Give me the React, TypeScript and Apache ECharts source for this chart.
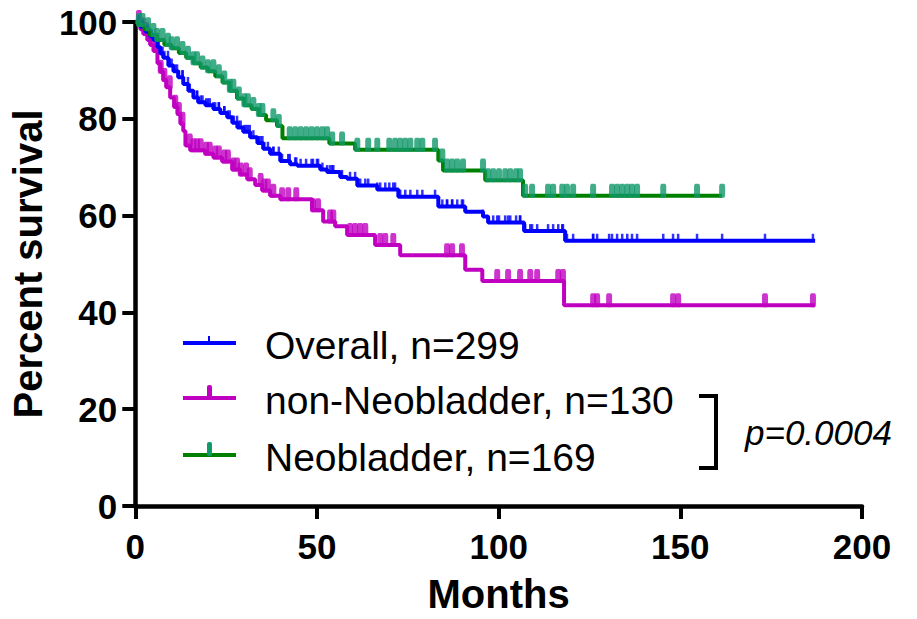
import React, { useEffect, useRef } from "react";
import * as echarts from "echarts";

const FONT = '"Liberation Sans", Arial, Helvetica, sans-serif';

// Axis ticks
const xTicks = [0, 50, 100, 150, 200];
const yTicks = [0, 20, 40, 60, 80, 100];

// Kaplan-Meier step points (time in months, percent surviving after the drop)
const overallTime = [0, 1.4, 2.8, 4.1, 5.0, 6.1, 6.9, 7.7, 9.1, 10.5, 11.8, 13.2, 14.6, 16.0, 17.3, 19.3, 21.5, 23.4, 25.3, 26.7, 28.1, 29.7, 31.6, 33.6, 35.2, 37.1, 39.9, 42.6, 44.6, 50.9, 52.8, 56.4, 58.3, 61.1, 66.6, 72.4, 83.4, 90.8, 95.7, 97.1, 107, 118.3, 187.1];
const overallSurv = [100, 99, 98, 97, 96.3, 94.8, 93.5, 92.6, 91, 89.8, 88.6, 87.2, 85.8, 84.4, 83.4, 82.8, 82, 81.2, 80.3, 79.2, 78.2, 77.3, 76.2, 75.0, 73.8, 72.8, 71.3, 70.6, 70.3, 69.5, 69.0, 68.0, 67.6, 66.2, 65.4, 63.9, 61.9, 60.8, 59.8, 58.6, 56.8, 54.8, 54.8];

const nonNeoTime = [0, 1.4, 2.2, 3.3, 4.1, 5.0, 6.1, 6.9, 7.7, 8.5, 9.6, 10.7, 11.6, 12.4, 13.2, 13.8, 15.1, 19.3, 21.5, 23.9, 26.7, 28.9, 30.8, 33, 34.9, 37.1, 39.9, 48.7, 51.7, 55.0, 58.3, 66.0, 72.9, 90.8, 95.5, 118.0, 187];
const nonNeoSurv = [100, 98.5, 97.5, 96.3, 95.3, 94, 91.5, 89.7, 88, 86.5, 84.4, 82.5, 81, 79, 77.5, 74.5, 73.5, 72.8, 72.0, 71.2, 69.5, 68.5, 67.5, 66.3, 65.2, 64.1, 63.4, 61.1, 58.8, 57.8, 56.0, 53.9, 51.8, 48.8, 46.5, 41.5, 41.5];

const neoTime = [0, 1, 2.5, 4, 6, 8, 10, 12, 14, 16, 18, 20, 22, 24, 26, 28, 30, 32, 34, 36, 39, 40.5, 53.4, 60.5, 83.4, 84.7, 96.3, 106.7, 161.5];
const neoSurv = [100, 99.4, 98.5, 97.3, 96.3, 95.3, 94.6, 93.6, 92.6, 91.5, 90.6, 89.8, 88.8, 87.5, 85.8, 84.2, 82.8, 82.0, 80.8, 79.7, 78.5, 76.0, 74.9, 73.6, 71.4, 69.3, 67.3, 64.1, 64.1];

// Censoring times (months)
const nonNeoCensor = [1, 2, 3, 4.5, 6, 7, 8, 9.5, 11, 12, 13, 15, 16, 17, 18, 19.5, 20.5, 22, 23, 24.5, 25.5, 27, 28, 29, 30.5, 31.5, 34.5, 35.5, 36.5, 38, 40.4, 42.1, 44.3, 48.9, 50.3, 53.6, 54.5, 59.1, 60.5, 61.9, 63.3, 67.4, 68.8, 71.0, 85.8, 87.2, 89.9, 99.6, 102.6, 105.9, 108.7, 110.6, 116.4, 117.7, 126.0, 127.1, 130.4, 148.0, 149.4, 173.3, 186.5];
const neoCensor = [1, 2, 3.5, 5, 6, 7.5, 9, 10, 11.5, 13, 14.5, 16, 17, 18.5, 20, 21.5, 23, 24.5, 26, 27, 28.5, 30, 31, 32.5, 34, 35, 38, 39.5, 42.5, 44, 45.5, 47, 48.5, 50, 51.5, 52.8, 54.2, 56.9, 61.1, 64.1, 66.6, 69.9, 71.5, 72.9, 74.3, 75.7, 77.6, 79.0, 82.5, 84.5, 85.8, 87.2, 88.6, 90.2, 95.7, 97.1, 98.5, 100.1, 101.8, 103.2, 104.8, 105.9, 107.3, 109.2, 113.6, 115.0, 117.5, 118.8, 120.5, 126.0, 131.2, 132.6, 134.0, 135.4, 136.7, 138.1, 145.3, 154.6, 161.5];
const overallCensor = [...nonNeoCensor, ...neoCensor];

const legendLabels = ["Overall, n=299", "non-Neobladder, n=130", "Neobladder, n=169"];
const pValueLabel = "p=0.0004";

const BLUE = "#0000ff";
const MAGENTA = "#c000c0";
const GREEN = "#008000";
const GREEN_MARK = "#10996a";

function survAt(times: number[], surv: number[], t: number): number {
  let s = surv[0];
  for (let i = 0; i < times.length; i++) {
    if (times[i] <= t) s = surv[i];
    else break;
  }
  return s;
}

function stepData(times: number[], surv: number[]) {
  return times.map((t, i) => [t, surv[i]]);
}

function censorData(times: number[], surv: number[], censor: number[]) {
  return censor.map((t) => [t, survAt(times, surv, t)]);
}

export default function App() {
  const ref = useRef<HTMLDivElement>(null);

  useEffect(() => {
    if (!ref.current) return;
    const chart = echarts.init(ref.current, null, { renderer: "svg" });

    const lineSeries = (name: string, times: number[], surv: number[], color: string, z: number) => ({
      name,
      type: "line",
      step: "end",
      showSymbol: false,
      symbol: "none",
      data: stepData(times, surv),
      lineStyle: { color, width: 4 },
      itemStyle: { color },
      z,
      silent: true,
    });

    const markSeries = (times: number[], surv: number[], censor: number[], color: string, size: number[], offset: number[], z: number, symbol: string) => ({
      type: "scatter",
      data: censorData(times, surv, censor),
      symbol,
      symbolSize: size,
      symbolOffset: offset,
      itemStyle: { color },
      clip: false,
      z,
      silent: true,
    });

    const legendY = [343, 398, 455];
    const legendColors = [BLUE, MAGENTA, GREEN];
    const markColors = [BLUE, MAGENTA, GREEN_MARK];
    const graphics: any[] = [];
    legendLabels.forEach((label, i) => {
      const y = legendY[i];
      graphics.push({
        type: "line",
        shape: { x1: 183, y1: y, x2: 236, y2: y },
        style: { stroke: legendColors[i], lineWidth: 4 },
      });
      if (i === 0) {
        graphics.push({
          type: "rect",
          shape: { x: 208, y: y - 7, width: 2, height: 8 },
          style: { fill: markColors[i] },
        });
      } else {
        graphics.push({
          type: "rect",
          shape: { x: 207, y: y - 13, width: 5, height: 14, r: 2 },
          style: { fill: markColors[i] },
        });
      }
      graphics.push({
        type: "text",
        x: 265,
        y: y + 2,
        style: {
          text: label,
          fontFamily: FONT,
          fontSize: 39,
          fill: "#000",
          verticalAlign: "middle",
          align: "left",
        },
      });
    });
    graphics.push({
      type: "polyline",
      shape: { points: [[699, 396], [716, 396], [716, 468], [699, 468]] },
      style: { stroke: "#000", lineWidth: 4, fill: "none" },
    });
    graphics.push({
      type: "text",
      x: 745,
      y: 432,
      style: {
        text: pValueLabel,
        fontFamily: FONT,
        fontSize: 35,
        fontStyle: "italic",
        fill: "#000",
        verticalAlign: "middle",
        align: "left",
      },
    });

    chart.setOption({
      animation: false,
      backgroundColor: "#fff",
      grid: { left: 135, right: 55, top: 22, bottom: 109, containLabel: false },
      xAxis: {
        type: "value",
        min: xTicks[0],
        max: xTicks[xTicks.length - 1],
        interval: 50,
        name: "Months",
        nameLocation: "middle",
        nameGap: 68,
        nameTextStyle: { fontFamily: FONT, fontSize: 40, fontWeight: "bold", color: "#000" },
        axisLine: { onZero: false, lineStyle: { color: "#000", width: 4.5 } },
        axisTick: { length: 13, lineStyle: { color: "#000", width: 4 } },
        axisLabel: { fontFamily: FONT, fontSize: 35, fontWeight: "bold", color: "#000", margin: 23 },
        splitLine: { show: false },
      },
      yAxis: {
        type: "value",
        min: yTicks[0],
        max: yTicks[yTicks.length - 1],
        interval: 20,
        name: "Percent survival",
        nameLocation: "middle",
        nameGap: 85,
        nameTextStyle: { fontFamily: FONT, fontSize: 40, fontWeight: "bold", color: "#000" },
        axisLine: { onZero: false, lineStyle: { color: "#000", width: 4.5 } },
        axisTick: { length: 13, lineStyle: { color: "#000", width: 4 } },
        axisLabel: { fontFamily: FONT, fontSize: 35, fontWeight: "bold", color: "#000", margin: 18 },
        splitLine: { show: false },
      },
      series: [
        lineSeries("non-Neobladder", nonNeoTime, nonNeoSurv, MAGENTA, 2),
        markSeries(nonNeoTime, nonNeoSurv, nonNeoCensor, MAGENTA, [6, 14], [0, -5], 3, "roundRect"),
        lineSeries("Overall", overallTime, overallSurv, BLUE, 4),
        markSeries(overallTime, overallSurv, overallCensor, BLUE, [2.5, 8], [0, -3], 5, "rect"),
        lineSeries("Neobladder", neoTime, neoSurv, GREEN, 6),
        markSeries(neoTime, neoSurv, neoCensor, GREEN_MARK, [6, 14], [0, -5], 7, "roundRect"),
      ],
      graphic: graphics,
    });

    return () => chart.dispose();
  }, []);

  return (
    <div
      ref={ref}
      style={{ position: "absolute", left: 0, top: 0, width: 917, height: 619, background: "#fff" }}
    />
  );
}
